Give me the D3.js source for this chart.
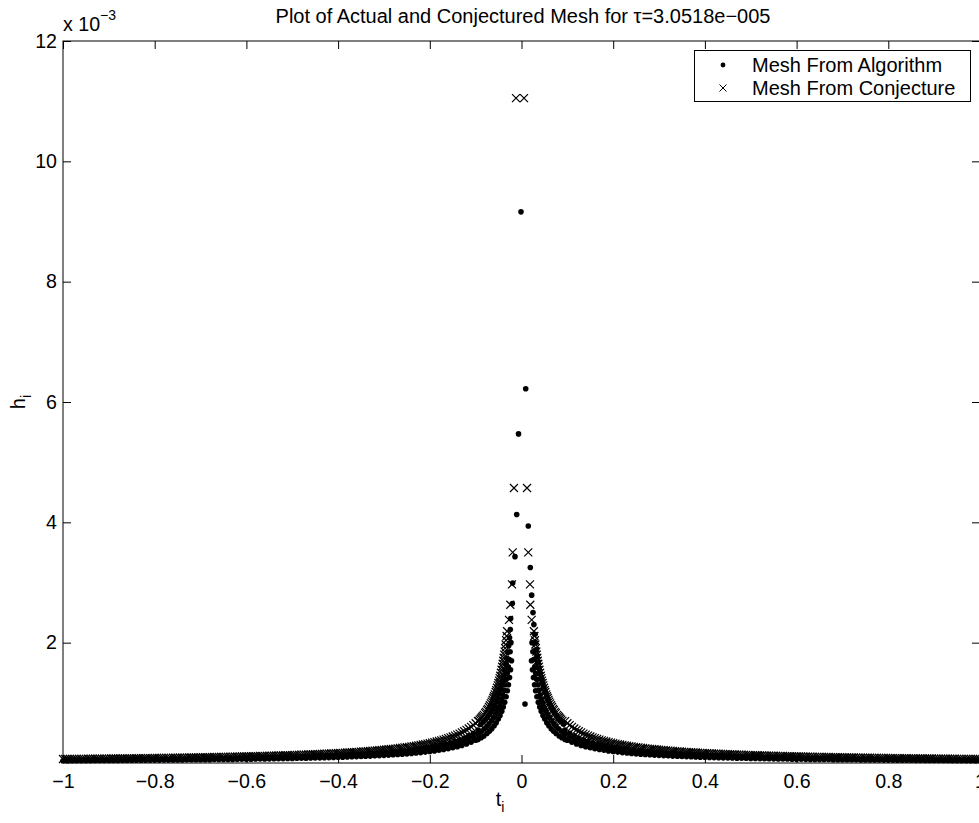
<!DOCTYPE html>
<html>
<head>
<meta charset="utf-8">
<script src="https://cdn.jsdelivr.net/npm/d3@7"></script>
<style>
html,body{margin:0;padding:0;background:#fff;overflow:hidden;}
svg{display:block;font-family:"Liberation Sans",Arial,Helvetica,sans-serif;}
</style>
</head>
<body>
<svg id="chart" width="979" height="823"></svg>
<script>
// ---------------- data (h in units of 1e-3) ----------------
const titleText = "Plot of Actual and Conjectured Mesh for \u03C4=3.0518e\u2212005";
const seriesNames = ["Mesh From Algorithm", "Mesh From Conjecture"];
const xTicks = [-1, -0.8, -0.6, -0.4, -0.2, 0, 0.2, 0.4, 0.6, 0.8, 1];
const xTickLabels = ["\u22121", "\u22120.8", "\u22120.6", "\u22120.4", "\u22120.2", "0", "0.2", "0.4", "0.6", "0.8", "1"];
const yTicks = [2, 4, 6, 8, 10, 12];
const yTickLabels = ["2", "4", "6", "8", "10", "12"];

// t grids of the outer (flat) parts of the meshes
const tFlatL = [
 -1.00,-0.99,-0.98,-0.97,-0.96,-0.95,-0.94,-0.93,-0.92,-0.91,
 -0.90,-0.89,-0.88,-0.87,-0.86,-0.85,-0.84,-0.83,-0.82,-0.81,
 -0.80,-0.79,-0.78,-0.77,-0.76,-0.75,-0.74,-0.73,-0.72,-0.71,
 -0.70,-0.69,-0.68,-0.67,-0.66,-0.65,-0.64,-0.63,-0.62,-0.61,
 -0.60,-0.59,-0.58,-0.57,-0.56,-0.55,-0.54,-0.53,-0.52,-0.51,
 -0.50,-0.49,-0.48,-0.47,-0.46,-0.45,-0.44,-0.43,-0.42,-0.41,
 -0.40,-0.39,-0.38,-0.37,-0.36,-0.35,-0.34,-0.33,-0.32,-0.31,
 -0.30,-0.29,-0.28,-0.27,-0.26,-0.25,-0.24,-0.23,-0.22,-0.21,
 -0.20,-0.19,-0.18,-0.17,-0.16,-0.15,-0.14,-0.13,-0.12,-0.11,
 -0.10];
const tFlatR = [
 0.10,
 0.11,0.12,0.13,0.14,0.15,0.16,0.17,0.18,0.19,0.20,
 0.21,0.22,0.23,0.24,0.25,0.26,0.27,0.28,0.29,0.30,
 0.31,0.32,0.33,0.34,0.35,0.36,0.37,0.38,0.39,0.40,
 0.41,0.42,0.43,0.44,0.45,0.46,0.47,0.48,0.49,0.50,
 0.51,0.52,0.53,0.54,0.55,0.56,0.57,0.58,0.59,0.60,
 0.61,0.62,0.63,0.64,0.65,0.66,0.67,0.68,0.69,0.70,
 0.71,0.72,0.73,0.74,0.75,0.76,0.77,0.78,0.79,0.80,
 0.81,0.82,0.83,0.84,0.85,0.86,0.87,0.88,0.89,0.90,
 0.91,0.92,0.93,0.94,0.95,0.96,0.97,0.98,0.99,1.00];
const tFlatL2 = [
 -0.995,-0.985,-0.975,-0.965,-0.955,-0.945,-0.935,-0.925,-0.915,-0.905,
 -0.895,-0.885,-0.875,-0.865,-0.855,-0.845,-0.835,-0.825,-0.815,-0.805,
 -0.795,-0.785,-0.775,-0.765,-0.755,-0.745,-0.735,-0.725,-0.715,-0.705,
 -0.695,-0.685,-0.675,-0.665,-0.655,-0.645,-0.635,-0.625,-0.615,-0.605,
 -0.595,-0.585,-0.575,-0.565,-0.555,-0.545,-0.535,-0.525,-0.515,-0.505,
 -0.495,-0.485,-0.475,-0.465,-0.455,-0.445,-0.435,-0.425,-0.415,-0.405,
 -0.395,-0.385,-0.375,-0.365,-0.355,-0.345,-0.335,-0.325,-0.315,-0.305,
 -0.295,-0.285,-0.275,-0.265,-0.255,-0.245,-0.235,-0.225,-0.215,-0.205,
 -0.195,-0.185,-0.175,-0.165,-0.155,-0.145,-0.135,-0.125,-0.115,-0.105,
 -0.095];
const tFlatR2 = [
 0.095,
 0.105,0.115,0.125,0.135,0.145,0.155,0.165,0.175,0.185,0.195,
 0.205,0.215,0.225,0.235,0.245,0.255,0.265,0.275,0.285,0.295,
 0.305,0.315,0.325,0.335,0.345,0.355,0.365,0.375,0.385,0.395,
 0.405,0.415,0.425,0.435,0.445,0.455,0.465,0.475,0.485,0.495,
 0.505,0.515,0.525,0.535,0.545,0.555,0.565,0.575,0.585,0.595,
 0.605,0.615,0.625,0.635,0.645,0.655,0.665,0.675,0.685,0.695,
 0.705,0.715,0.725,0.735,0.745,0.755,0.765,0.775,0.785,0.795,
 0.805,0.815,0.825,0.835,0.845,0.855,0.865,0.875,0.885,0.895,
 0.905,0.915,0.925,0.935,0.945,0.955,0.965,0.975,0.985,0.995];

// ---- Mesh From Conjecture ----
const conjFlatHL = [
 0.066,0.067,0.067,0.068,0.069,0.069,0.070,0.071,0.072,0.073,
 0.073,0.074,0.075,0.076,0.077,0.078,0.079,0.080,0.080,0.081,
 0.083,0.084,0.085,0.086,0.087,0.088,0.089,0.090,0.092,0.093,
 0.094,0.096,0.097,0.099,0.100,0.102,0.103,0.105,0.106,0.108,
 0.110,0.112,0.114,0.116,0.118,0.120,0.122,0.125,0.127,0.129,
 0.132,0.135,0.138,0.140,0.143,0.147,0.150,0.153,0.157,0.161,
 0.165,0.169,0.174,0.178,0.183,0.189,0.194,0.200,0.206,0.213,
 0.220,0.228,0.236,0.244,0.254,0.264,0.275,0.287,0.300,0.314,
 0.330,0.347,0.367,0.388,0.413,0.440,0.471,0.508,0.550,0.600,
 0.660];
const conjFlatHR = [
 0.660,
 0.600,0.550,0.508,0.471,0.440,0.413,0.388,0.367,0.347,0.330,
 0.314,0.300,0.287,0.275,0.264,0.254,0.244,0.236,0.228,0.220,
 0.213,0.206,0.200,0.194,0.189,0.183,0.178,0.174,0.169,0.165,
 0.161,0.157,0.153,0.150,0.147,0.143,0.140,0.138,0.135,0.132,
 0.129,0.127,0.125,0.122,0.120,0.118,0.116,0.114,0.112,0.110,
 0.108,0.106,0.105,0.103,0.102,0.100,0.099,0.097,0.096,0.094,
 0.093,0.092,0.090,0.089,0.088,0.087,0.086,0.085,0.084,0.083,
 0.081,0.080,0.080,0.079,0.078,0.077,0.076,0.075,0.074,0.073,
 0.073,0.072,0.071,0.070,0.069,0.069,0.068,0.067,0.067,0.066];
const conjFlatHL2 = [
 0.066,0.067,0.068,0.068,0.069,0.070,0.071,0.071,0.072,0.073,
 0.074,0.075,0.075,0.076,0.077,0.078,0.079,0.080,0.081,0.082,
 0.083,0.084,0.085,0.086,0.087,0.089,0.090,0.091,0.092,0.094,
 0.095,0.096,0.098,0.099,0.101,0.102,0.104,0.106,0.107,0.109,
 0.111,0.113,0.115,0.117,0.119,0.121,0.123,0.126,0.128,0.131,
 0.133,0.136,0.139,0.142,0.145,0.148,0.152,0.155,0.159,0.163,
 0.167,0.171,0.176,0.181,0.186,0.191,0.197,0.203,0.210,0.216,
 0.224,0.232,0.240,0.249,0.259,0.269,0.281,0.293,0.307,0.322,
 0.338,0.357,0.377,0.400,0.426,0.455,0.489,0.528,0.574,0.629,
 0.695];
const conjFlatHR2 = [
 0.695,
 0.629,0.574,0.528,0.489,0.455,0.426,0.400,0.377,0.357,0.338,
 0.322,0.307,0.293,0.281,0.269,0.259,0.249,0.240,0.232,0.224,
 0.216,0.210,0.203,0.197,0.191,0.186,0.181,0.176,0.171,0.167,
 0.163,0.159,0.155,0.152,0.148,0.145,0.142,0.139,0.136,0.133,
 0.131,0.128,0.126,0.123,0.121,0.119,0.117,0.115,0.113,0.111,
 0.109,0.107,0.106,0.104,0.102,0.101,0.099,0.098,0.096,0.095,
 0.094,0.092,0.091,0.090,0.089,0.087,0.086,0.085,0.084,0.083,
 0.082,0.081,0.080,0.079,0.078,0.077,0.076,0.075,0.075,0.074,
 0.073,0.072,0.071,0.071,0.070,0.069,0.068,0.068,0.067,0.066];
const conjSteepT = [
 -0.0936,-0.0887,-0.0843,-0.0793,-0.0749,-0.0710,-0.0668,-0.0632,-0.0599,-0.0564,
 -0.0534,-0.0503,-0.0476,-0.0449,-0.0422,-0.0398,-0.0378,-0.0357,-0.0336,-0.0314,
 -0.0273,-0.0244,-0.0207,-0.0192,-0.0164,-0.0120,
 -0.0325,-0.0347,-0.0368,-0.0388,-0.0410,-0.0435,-0.0463,-0.0489,-0.0518,-0.0551,
 -0.0583,-0.0615,-0.0649,-0.0689,-0.0733,-0.0775,-0.0822,-0.0864,-0.0911,
 0.0055,0.0120,0.0148,0.0185,0.0192,0.0222,0.0270,0.0292,0.0313,0.0334,
 0.0354,0.0378,0.0405,0.0432,0.0459,0.0490,0.0520,0.0555,0.0588,0.0624,
 0.0666,0.0705,0.0749,0.0799,0.0843,0.0892,
 0.0281,0.0303,0.0324,0.0344,0.0366,0.0391,0.0419,0.0445,0.0474,0.0507,
 0.0539,0.0571,0.0605,0.0645,0.0689,0.0731,0.0778,0.0820,0.0867];
const conjSteepH = [
 0.70,0.74,0.78,0.83,0.88,0.93,0.99,1.05,1.11,1.18,
 1.25,1.33,1.41,1.50,1.60,1.70,1.80,1.91,2.04,2.19,
 2.38,2.63,2.97,3.50,4.57,11.05,
 2.11,1.97,1.85,1.75,1.65,1.55,1.45,1.37,1.29,1.21,
 1.14,1.08,1.02,0.96,0.90,0.85,0.80,0.76,0.72,
 11.05,4.57,3.50,2.97,2.63,2.38,2.19,2.04,1.91,1.80,
 1.70,1.60,1.50,1.41,1.33,1.25,1.18,1.11,1.05,0.99,
 0.93,0.88,0.83,0.78,0.74,0.70,
 2.11,1.97,1.85,1.75,1.65,1.55,1.45,1.37,1.29,1.21,
 1.14,1.08,1.02,0.96,0.90,0.85,0.80,0.76,0.72];

// ---- Mesh From Algorithm ----
const algAFlatHL = [
 0.052,0.053,0.053,0.054,0.054,0.055,0.056,0.056,0.057,0.057,
 0.058,0.059,0.059,0.060,0.061,0.062,0.062,0.063,0.064,0.065,
 0.065,0.066,0.067,0.068,0.069,0.070,0.071,0.072,0.073,0.074,
 0.075,0.076,0.077,0.078,0.079,0.081,0.082,0.083,0.085,0.086,
 0.087,0.089,0.090,0.092,0.094,0.095,0.097,0.099,0.101,0.103,
 0.105,0.107,0.109,0.112,0.114,0.117,0.120,0.122,0.125,0.128,
 0.132,0.135,0.139,0.142,0.146,0.151,0.155,0.160,0.165,0.170,
 0.176,0.182,0.189,0.196,0.204,0.212,0.221,0.231,0.242,0.254,
 0.267,0.281,0.297,0.315,0.335,0.359,0.385,0.416,0.452,0.495,
 0.547];
const algAFlatHR = [
 0.547,
 0.495,0.452,0.416,0.385,0.359,0.335,0.315,0.297,0.281,0.267,
 0.254,0.242,0.231,0.221,0.212,0.204,0.196,0.189,0.182,0.176,
 0.170,0.165,0.160,0.155,0.151,0.146,0.142,0.139,0.135,0.132,
 0.128,0.125,0.122,0.120,0.117,0.114,0.112,0.109,0.107,0.105,
 0.103,0.101,0.099,0.097,0.095,0.094,0.092,0.090,0.089,0.087,
 0.086,0.085,0.083,0.082,0.081,0.079,0.078,0.077,0.076,0.075,
 0.074,0.073,0.072,0.071,0.070,0.069,0.068,0.067,0.066,0.065,
 0.065,0.064,0.063,0.062,0.062,0.061,0.060,0.059,0.059,0.058,
 0.057,0.057,0.056,0.056,0.055,0.054,0.054,0.053,0.053,0.052];
const algBFlatHL = [
 0.038,0.038,0.039,0.039,0.040,0.040,0.040,0.041,0.041,0.042,
 0.042,0.043,0.043,0.044,0.044,0.045,0.045,0.046,0.046,0.047,
 0.048,0.048,0.049,0.049,0.050,0.051,0.051,0.052,0.053,0.054,
 0.054,0.055,0.056,0.057,0.058,0.058,0.059,0.060,0.061,0.062,
 0.063,0.064,0.066,0.067,0.068,0.069,0.070,0.072,0.073,0.075,
 0.076,0.078,0.079,0.081,0.083,0.084,0.086,0.088,0.090,0.093,
 0.095,0.097,0.100,0.103,0.106,0.109,0.112,0.115,0.119,0.123,
 0.127,0.131,0.136,0.141,0.146,0.152,0.158,0.165,0.173,0.181,
 0.190,0.200,0.211,0.224,0.238,0.253,0.271,0.292,0.317,0.345,
 0.380];
const algBFlatHR = [
 0.380,
 0.345,0.317,0.292,0.271,0.253,0.238,0.224,0.211,0.200,0.190,
 0.181,0.173,0.165,0.158,0.152,0.146,0.141,0.136,0.131,0.127,
 0.123,0.119,0.115,0.112,0.109,0.106,0.103,0.100,0.097,0.095,
 0.093,0.090,0.088,0.086,0.084,0.083,0.081,0.079,0.078,0.076,
 0.075,0.073,0.072,0.070,0.069,0.068,0.067,0.066,0.064,0.063,
 0.062,0.061,0.060,0.059,0.058,0.058,0.057,0.056,0.055,0.054,
 0.054,0.053,0.052,0.051,0.051,0.050,0.049,0.049,0.048,0.048,
 0.047,0.046,0.046,0.045,0.045,0.044,0.044,0.043,0.043,0.042,
 0.042,0.041,0.041,0.040,0.040,0.040,0.039,0.039,0.038,0.038];
const algCFlatT = [
 -0.345,-0.335,-0.325,-0.315,-0.305,-0.295,-0.285,-0.275,-0.265,-0.255,
 -0.245,-0.235,-0.225,-0.215,-0.205,-0.195,-0.185,-0.175,-0.165,-0.155,
 -0.145,-0.135,-0.125,-0.115,-0.105,-0.095,
 0.095,0.105,0.115,0.125,0.135,0.145,0.155,0.165,0.175,0.185,
 0.195,0.205,0.215,0.225,0.235,0.245,0.255,0.265,0.275,0.285,
 0.295,0.305,0.315,0.325,0.335,0.345];
const algCFlatH = [
 0.130,0.134,0.138,0.143,0.148,0.153,0.158,0.164,0.170,0.176,
 0.184,0.191,0.200,0.209,0.220,0.231,0.243,0.257,0.273,0.290,
 0.310,0.333,0.360,0.391,0.429,0.474,
 0.474,0.429,0.391,0.360,0.333,0.310,0.290,0.273,0.257,0.243,
 0.231,0.220,0.209,0.200,0.191,0.184,0.176,0.170,0.164,0.158,
 0.153,0.148,0.143,0.138,0.134,0.130];
const algSteepT = [
 -0.0888,-0.0835,-0.0788,-0.0745,-0.0698,-0.0656,-0.0619,-0.0586,-0.0551,-0.0519,
 -0.0486,-0.0457,-0.0432,-0.0405,-0.0379,-0.0356,-0.0334,-0.0315,-0.0297,-0.0279,
 -0.0261,-0.0244,-0.0236,-0.0201,-0.0192,-0.0142,-0.0105,-0.0065,-0.0011,
 0.0076,0.0092,0.0148,0.0192,0.0222,0.0251,0.0270,0.0289,0.0308,0.0327,
 0.0344,0.0363,0.0385,0.0407,0.0432,0.0457,0.0486,0.0514,0.0545,0.0576,
 0.0610,0.0648,0.0685,0.0725,0.0771,0.0813,0.0859,0.0910];
const algSteepH = [
 0.64,0.68,0.72,0.76,0.81,0.86,0.91,0.96,1.02,1.08,
 1.15,1.22,1.29,1.37,1.46,1.55,1.65,1.74,1.84,1.95,
 2.08,2.22,2.40,2.65,2.99,3.43,4.13,5.47,9.16,
 0.98,6.22,3.94,3.25,2.79,2.50,2.30,2.14,2.00,1.88,
 1.78,1.68,1.58,1.49,1.40,1.32,1.24,1.17,1.10,1.04,
 0.98,0.92,0.87,0.82,0.77,0.73,0.69,0.65];
const algSteepCT = [
 -0.0920,-0.0868,-0.0807,-0.0754,-0.0708,-0.0657,-0.0613,-0.0575,-0.0535,-0.0500,
 -0.0465,-0.0434,-0.0407,-0.0380,-0.0354,-0.0331,-0.0309,-0.0288,-0.0267,-0.0249,
 -0.0230,
 0.0230,0.0249,0.0267,0.0288,0.0309,0.0331,0.0354,0.0380,0.0407,0.0434,
 0.0465,0.0500,0.0535,0.0575,0.0613,0.0657,0.0708,0.0754,0.0807,0.0868,
 0.0920];
const algSteepCH = [
 0.50,0.53,0.57,0.61,0.65,0.70,0.75,0.80,0.86,0.92,
 0.99,1.06,1.13,1.21,1.30,1.39,1.49,1.60,1.72,1.85,
 2.00,
 2.00,1.85,1.72,1.60,1.49,1.39,1.30,1.21,1.13,1.06,
 0.99,0.92,0.86,0.80,0.75,0.70,0.65,0.61,0.57,0.53,
 0.50];
const algSteepBT = [
 -0.0949,-0.0881,-0.0822,-0.0755,-0.0698,-0.0649,-0.0597,-0.0552,-0.0507,-0.0468,
 -0.0430,-0.0398,-0.0366,-0.0336,-0.0308,-0.0285,-0.0261,-0.0239,-0.0218,
 0.0218,0.0239,0.0261,0.0285,0.0308,0.0336,0.0366,0.0398,0.0430,0.0468,
 0.0507,0.0552,0.0597,0.0649,0.0698,0.0755,0.0822,0.0881,0.0949];
const algSteepBH = [
 0.39,0.42,0.45,0.49,0.53,0.57,0.62,0.67,0.73,0.79,
 0.86,0.93,1.01,1.10,1.20,1.30,1.42,1.55,1.70,
 1.70,1.55,1.42,1.30,1.20,1.10,1.01,0.93,0.86,0.79,
 0.73,0.67,0.62,0.57,0.53,0.49,0.45,0.42,0.39];

// ---------------- assemble series ----------------
const zip = (a, b) => a.slice(0, Math.min(a.length, b.length)).map((v, i) => [v, b[i]]);
const conjData = [].concat(
  zip(tFlatL, conjFlatHL), zip(tFlatL2, conjFlatHL2),
  zip(conjSteepT, conjSteepH),
  zip(tFlatR, conjFlatHR), zip(tFlatR2, conjFlatHR2));
const algData = [].concat(
  zip(tFlatL2, algAFlatHL), zip(tFlatR2, algAFlatHR),
  zip(tFlatL, algBFlatHL), zip(tFlatR, algBFlatHR),
  zip(algCFlatT, algCFlatH),
  zip(algSteepT, algSteepH), zip(algSteepCT, algSteepCH), zip(algSteepBT, algSteepBH));

// ---------------- layout ----------------
const svg = d3.select("#chart");
const L = 63, R = 980, T = 41, B = 763;
const x = d3.scaleLinear().domain([-1, 1]).range([L, R]);
const y = d3.scaleLinear().domain([0, 12]).range([B, T]);
const FONT = 19.6;
const TL = 8;

svg.append("rect").attr("x", L).attr("y", T).attr("width", R - L).attr("height", B - T)
  .attr("fill", "none").attr("stroke", "#000").attr("stroke-width", 1);

const xAxisB = d3.axisBottom(x).tickValues(xTicks).tickSize(-TL).tickPadding(11)
  .tickFormat((d, i) => xTickLabels[i]);
const gxb = svg.append("g").attr("transform", `translate(0,${B})`).call(xAxisB);
gxb.select(".domain").remove();
gxb.selectAll("line").attr("stroke", "#000");
gxb.selectAll("text").attr("font-size", FONT).attr("fill", "#000")
  .attr("font-family", "Liberation Sans, Arial, sans-serif");

const xAxisT = d3.axisTop(x).tickValues(xTicks).tickSize(-TL).tickFormat("");
const gxt = svg.append("g").attr("transform", `translate(0,${T})`).call(xAxisT);
gxt.select(".domain").remove();
gxt.selectAll("line").attr("stroke", "#000");

const yAxisL = d3.axisLeft(y).tickValues(yTicks).tickSize(-TL).tickPadding(6)
  .tickFormat((d, i) => yTickLabels[i]);
const gyl = svg.append("g").attr("transform", `translate(${L},0)`).call(yAxisL);
gyl.select(".domain").remove();
gyl.selectAll("line").attr("stroke", "#000");
gyl.selectAll("text").attr("font-size", FONT).attr("fill", "#000")
  .attr("font-family", "Liberation Sans, Arial, sans-serif");

const yAxisR = d3.axisRight(y).tickValues(yTicks).tickSize(-TL).tickFormat("");
const gyr = svg.append("g").attr("transform", `translate(${R},0)`).call(yAxisR);
gyr.select(".domain").remove();
gyr.selectAll("line").attr("stroke", "#000");

const expo = svg.append("text").attr("x", 63).attr("y", 31).attr("font-size", FONT).attr("fill", "#000");
expo.append("tspan").text("x 10");
expo.append("tspan").attr("dy", -11).attr("font-size", 14).text("\u22123");

// ---------------- marks ----------------
const xPath = "M-4,-4L4,4M-4,4L4,-4";
svg.append("g").selectAll("circle").data(algData).join("circle")
  .attr("cx", d => x(d[0])).attr("cy", d => y(d[1])).attr("r", 2.8).attr("fill", "#000");
svg.append("g").selectAll("path").data(conjData).join("path")
  .attr("transform", d => `translate(${x(d[0])},${y(d[1])})`)
  .attr("d", xPath).attr("fill", "none").attr("stroke", "#000").attr("stroke-width", 1.2);

// title
svg.append("text").attr("x", 523).attr("y", 23).attr("text-anchor", "middle")
  .attr("font-size", 20).attr("fill", "#000").text(titleText);

// axis labels
const xl = svg.append("text").attr("x", 500).attr("y", 806).attr("text-anchor", "middle")
  .attr("font-size", 20).attr("fill", "#000");
xl.append("tspan").text("t");
xl.append("tspan").attr("dy", 6).attr("font-size", 14).text("i");

const yl = svg.append("text").attr("transform", "translate(25,402) rotate(-90)")
  .attr("text-anchor", "middle").attr("font-size", 20).attr("fill", "#000");
yl.append("tspan").text("h");
yl.append("tspan").attr("dy", 6).attr("font-size", 14).text("i");

// legend
const lg = svg.append("g");
lg.append("rect").attr("x", 694.5).attr("y", 50.5).attr("width", 276).attr("height", 51)
  .attr("fill", "#fff").attr("stroke", "#000").attr("stroke-width", 1);
lg.append("circle").attr("cx", 723).attr("cy", 65).attr("r", 2.4).attr("fill", "#000");
lg.append("path").attr("transform", "translate(723,88)").attr("d", "M-3.5,-3.5L3.5,3.5M-3.5,3.5L3.5,-3.5")
  .attr("stroke", "#000").attr("stroke-width", 1).attr("fill", "none");
lg.append("text").attr("x", 752).attr("y", 72).attr("font-size", 20).attr("fill", "#000").text(seriesNames[0]);
lg.append("text").attr("x", 752).attr("y", 95).attr("font-size", 20).attr("fill", "#000").text(seriesNames[1]);
</script>
</body>
</html>
